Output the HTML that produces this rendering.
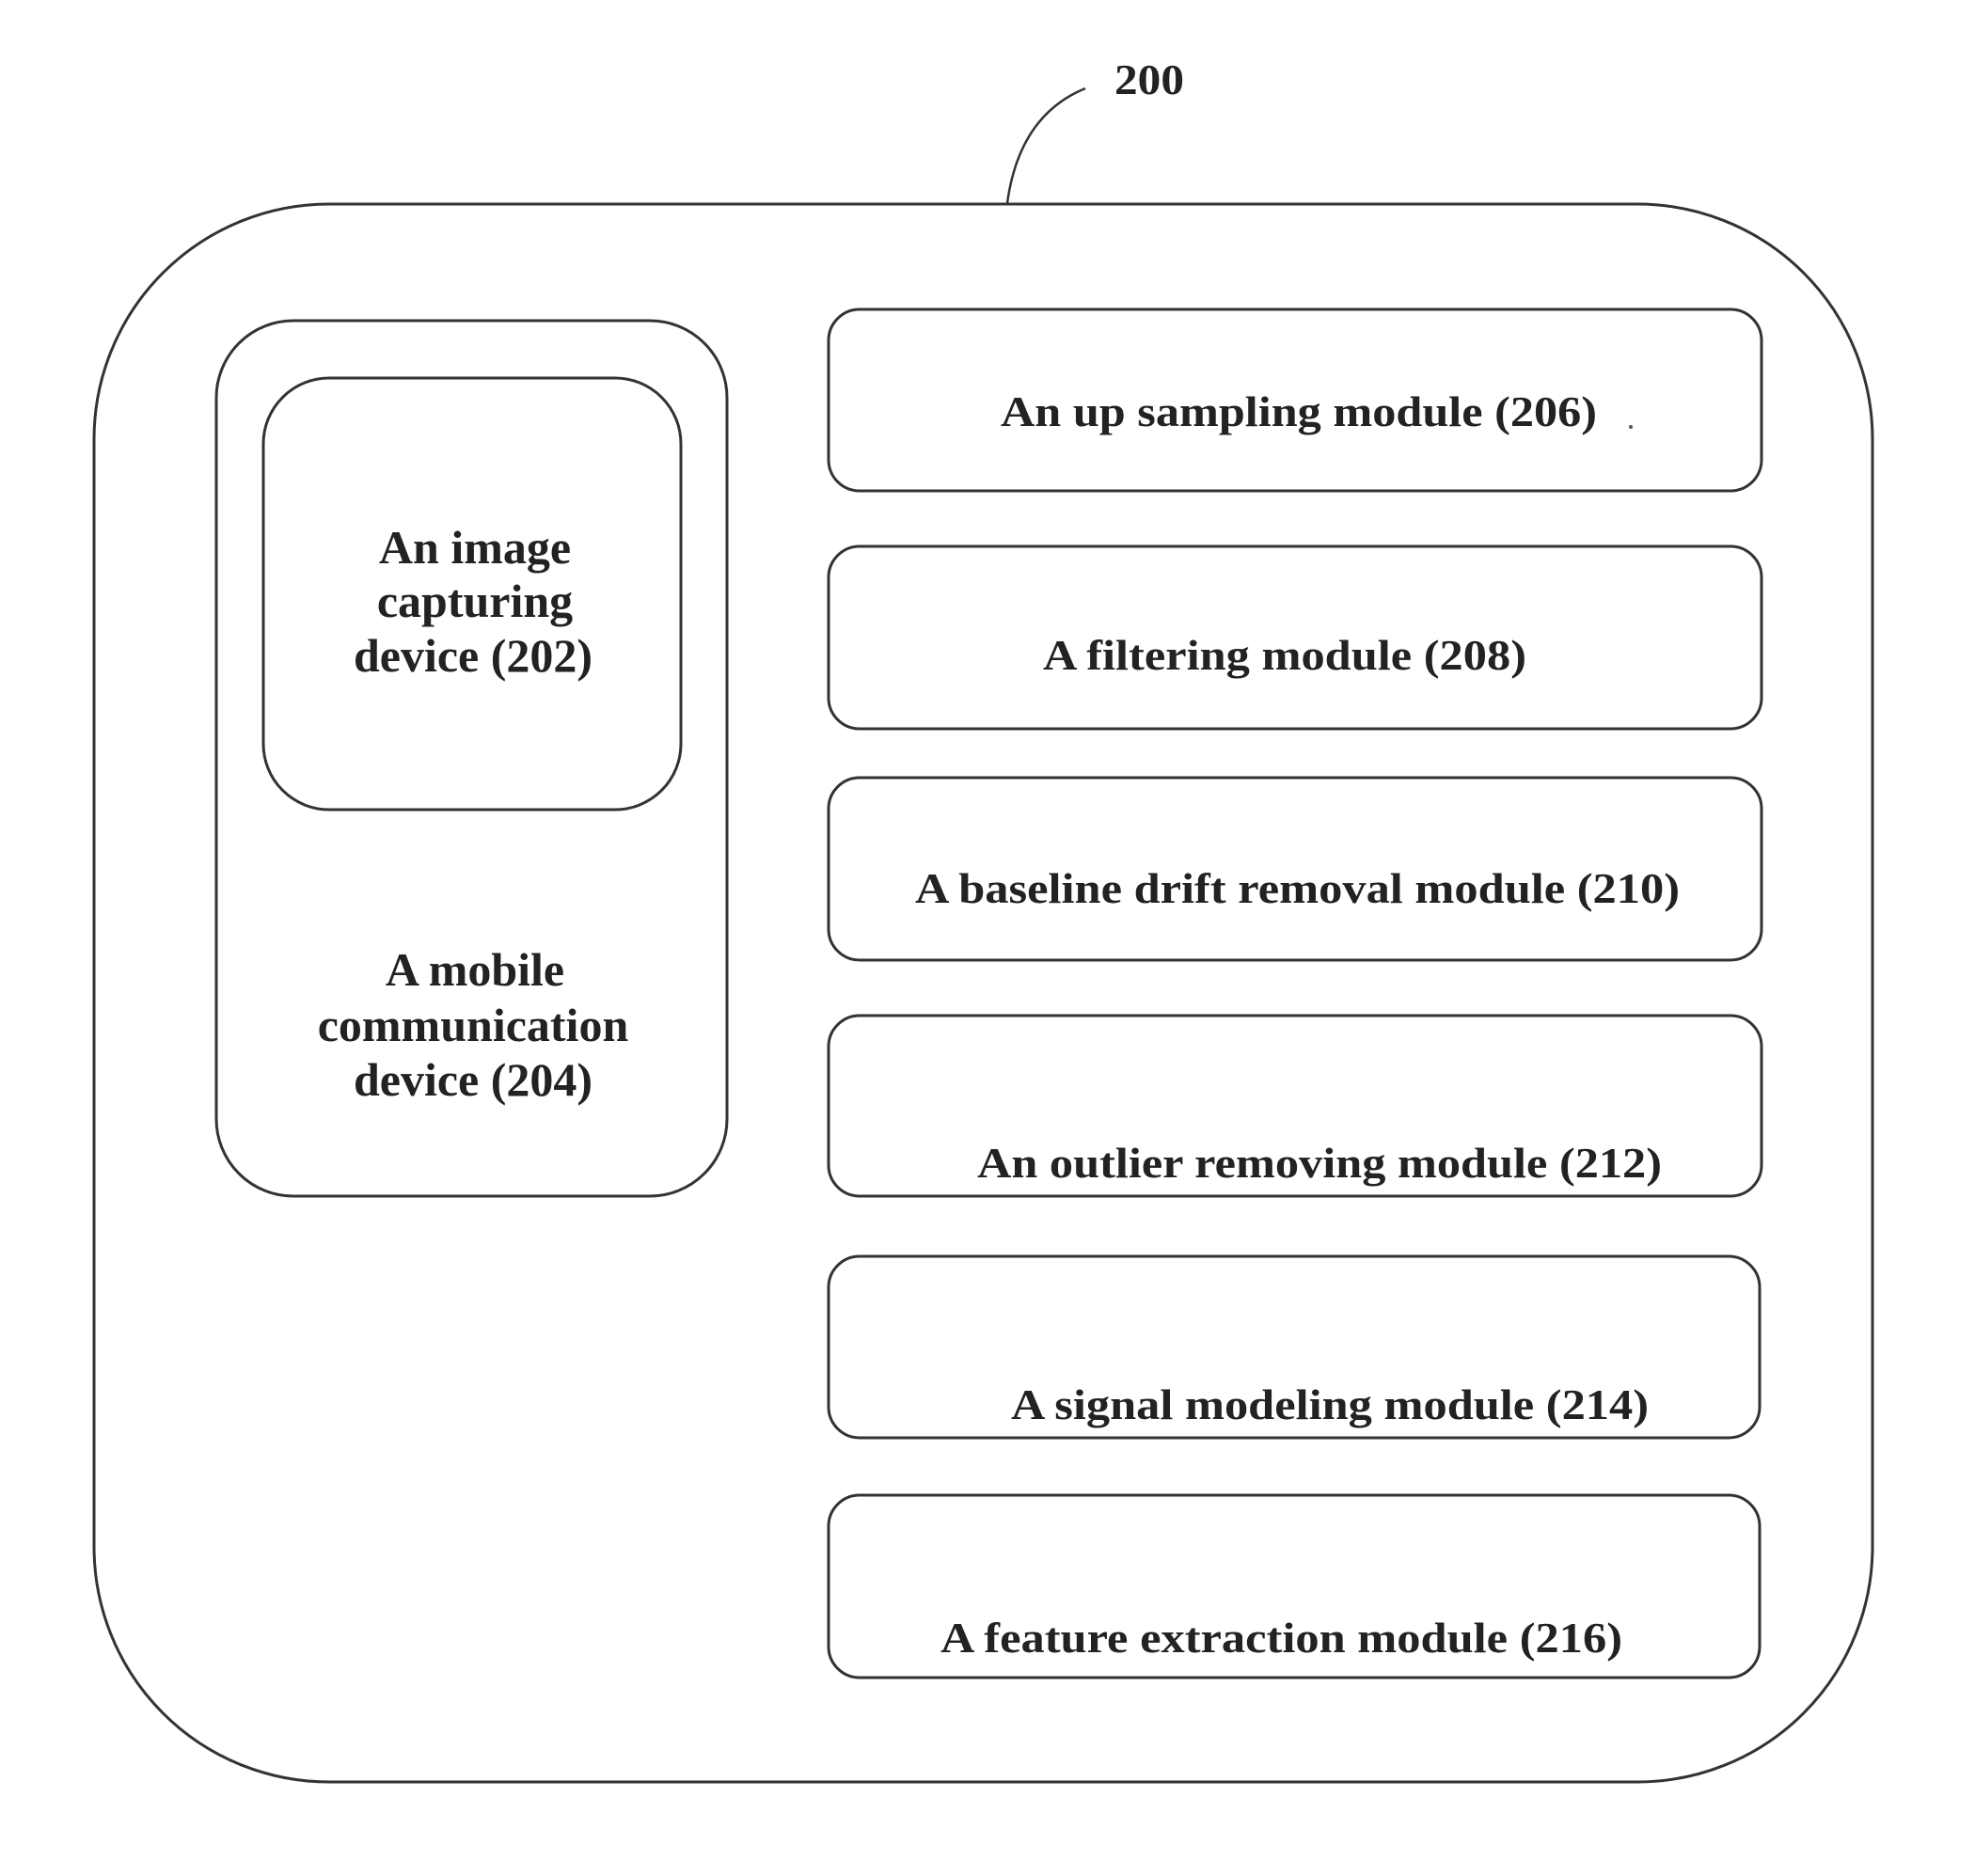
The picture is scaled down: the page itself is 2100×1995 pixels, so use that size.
<!DOCTYPE html>
<html><head><meta charset="utf-8"><style>
html,body{margin:0;padding:0;background:#fff;}
svg{display:block;}
text{font-family:"Liberation Serif",serif;font-weight:bold;font-size:46px;fill:#222;}
.l{font-size:50px;}
</style></head><body>
<svg width="2100" height="1995" viewBox="0 0 2100 1995" xmlns="http://www.w3.org/2000/svg">
<g fill="none" stroke="#333" stroke-width="3">
<path d="M1071,216 C1080,150 1110,112 1154,94" stroke-width="2.5"/>
<rect x="100" y="217" width="1891" height="1678" rx="250" ry="250"/>
<rect x="230" y="341" width="543" height="931" rx="82" ry="82"/>
<rect x="280" y="402" width="444" height="459" rx="70" ry="70"/>
<rect x="881" y="329" width="992" height="193" rx="33" ry="33"/>
<rect x="881" y="581" width="992" height="194" rx="33" ry="33"/>
<rect x="881" y="827" width="992" height="194" rx="33" ry="33"/>
<rect x="881" y="1080" width="992" height="192" rx="33" ry="33"/>
<rect x="881" y="1336" width="990" height="193" rx="33" ry="33"/>
<rect x="881" y="1590" width="990" height="194" rx="33" ry="33"/>
</g>
<text x="1185" y="100" textLength="74" lengthAdjust="spacingAndGlyphs">200</text>
<text x="1064" y="453" textLength="634" lengthAdjust="spacingAndGlyphs">An up sampling module (206)</text>
<circle cx="1734" cy="454" r="2" fill="#555"/>
<text x="1109" y="712" textLength="514" lengthAdjust="spacingAndGlyphs">A filtering module (208)</text>
<text x="973" y="960" textLength="813" lengthAdjust="spacingAndGlyphs">A baseline drift removal module (210)</text>
<text x="1039" y="1252" textLength="728" lengthAdjust="spacingAndGlyphs">An outlier removing module (212)</text>
<text x="1075" y="1509" textLength="678" lengthAdjust="spacingAndGlyphs">A signal modeling module (214)</text>
<text x="1000" y="1757" textLength="725" lengthAdjust="spacingAndGlyphs">A feature extraction module (216)</text>
<g text-anchor="middle" class="l">
<text class="l" x="505" y="599">An image</text>
<text class="l" x="505" y="656">capturing</text>
<text class="l" x="503" y="714">device (202)</text>
<text class="l" x="505" y="1048">A mobile</text>
<text class="l" x="503" y="1107">communication</text>
<text class="l" x="503" y="1165">device (204)</text>
</g>
</svg>
</body></html>
